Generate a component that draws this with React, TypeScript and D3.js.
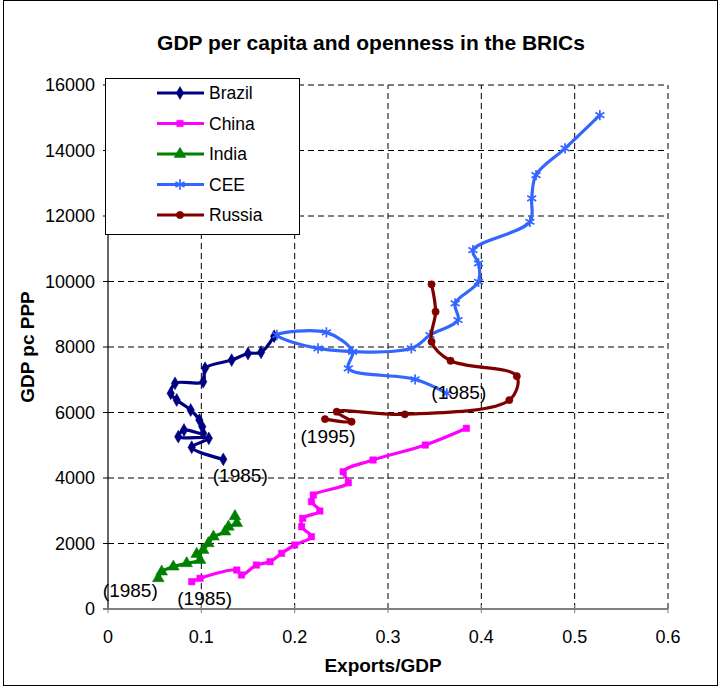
import React from "react";
import * as d3 from "d3";

const brazilX = [0.1235, 0.0897, 0.108, 0.0753, 0.0814, 0.102, 0.101, 0.0979, 0.0886, 0.0736, 0.0672, 0.0718, 0.102, 0.104, 0.1325, 0.15, 0.164, 0.178];
const brazilY = [4570, 4937, 5211, 5262, 5465, 5364, 5566, 5770, 6075, 6381, 6585, 6890, 6940, 7350, 7600, 7800, 7840, 8330];

const chinaX = [0.0897, 0.0986, 0.138, 0.143, 0.159, 0.1736, 0.186, 0.2, 0.218, 0.2075, 0.2086, 0.227, 0.218, 0.22, 0.2575, 0.252, 0.284, 0.34, 0.384];
const chinaY = [834, 937, 1190, 1038, 1343, 1444, 1700, 1954, 2207, 2512, 2769, 2992, 3276, 3480, 3856, 4192, 4549, 5007, 5517];

const indiaX = [0.0539, 0.0575, 0.07, 0.0843, 0.0986, 0.095, 0.102, 0.1075, 0.113, 0.1254, 0.129, 0.138, 0.136];
const indiaY = [937, 1139, 1291, 1395, 1496, 1679, 1801, 2006, 2207, 2360, 2512, 2620, 2830];

const ceeX = [0.363, 0.329, 0.2575, 0.262, 0.234, 0.181, 0.225, 0.325, 0.345, 0.375, 0.372, 0.397, 0.397, 0.391, 0.452, 0.454, 0.4586, 0.4897, 0.527];
const ceeY = [6585, 7013, 7348, 7850, 8447, 8365, 7959, 7959, 8365, 8823, 9333, 9993, 10554, 10960, 11824, 12538, 13250, 14065, 15082];

const russiaX = [0.2325, 0.261, 0.245, 0.318, 0.43, 0.438, 0.367, 0.3467, 0.351, 0.3467];
const russiaY = [5800, 5718, 6024, 5944, 6380, 7110, 7580, 8160, 9077, 9913];

const xTicks = [0, 0.1, 0.2, 0.3, 0.4, 0.5, 0.6];
const yTicks = [0, 2000, 4000, 6000, 8000, 10000, 12000, 14000, 16000];

const seriesNames = ["Brazil", "China", "India", "CEE", "Russia"];
const startLabels = ["(1985)", "(1985)", "(1985)", "(1985)", "(1995)"];

const FONT = "'Liberation Sans', Arial, Helvetica, sans-serif";

export default function App() {
  const W = 722;
  const H = 688;
  const x = d3.scaleLinear().domain([0, 0.6]).range([108, 668]);
  const y = d3.scaleLinear().domain([0, 16000]).range([609, 85]);

  const series = [
    { name: seriesNames[0], xs: brazilX, ys: brazilY, color: "#000080", sym: d3.symbolDiamond, size: 48, stroke: false },
    { name: seriesNames[1], xs: chinaX, ys: chinaY, color: "#FF00FF", sym: d3.symbolSquare, size: 42, stroke: false },
    { name: seriesNames[2], xs: indiaX, ys: indiaY, color: "#008000", sym: d3.symbolTriangle, size: 60, stroke: false },
    { name: seriesNames[3], xs: ceeX, ys: ceeY, color: "#3366FF", sym: d3.symbolAsterisk, size: 75, stroke: true },
    { name: seriesNames[4], xs: russiaX, ys: russiaY, color: "#800000", sym: d3.symbolCircle, size: 42, stroke: false },
  ];

  const line = d3
    .line<[number, number]>()
    .x((d) => x(d[0]))
    .y((d) => y(d[1]))
    .curve(d3.curveCatmullRom.alpha(0.5));

  const annos = [
    { s: 0, dx: 17, dy: 23 },
    { s: 1, dx: 13, dy: 23 },
    { s: 2, dx: -28, dy: 19 },
    { s: 3, dx: 12, dy: 6 },
    { s: 4, dx: 3, dy: 24 },
  ];

  const marker = (s: any, cx: number, cy: number, key: any) => {
    const p = d3.symbol(s.sym, s.size)() as string;
    return (
      <path
        key={key}
        d={p}
        transform={`translate(${cx},${cy})`}
        fill={s.stroke ? "none" : s.color}
        stroke={s.color}
        strokeWidth={s.stroke ? 1.7 : 0.5}
      />
    );
  };

  return (
    <svg width={W} height={H} style={{ display: "block", position: "absolute", left: 0, top: 0 }} fontFamily={FONT}>
      <rect x={0} y={0} width={W} height={H} fill="#ffffff" />
      <rect x={3.5} y={0.5} width={714} height={685} fill="none" stroke="#000" strokeWidth={1} />

      <text x={371} y={50} textAnchor="middle" fontSize={21} fontWeight="bold">
        GDP per capita and openness in the BRICs
      </text>

      {yTicks.filter((t) => t > 0).map((t) => (
        <line key={"gy" + t} x1={x(0)} x2={x(0.6)} y1={y(t)} y2={y(t)} stroke="#000" strokeWidth={1} strokeDasharray="6,4" />
      ))}
      {xTicks.filter((t) => t > 0).map((t) => (
        <line key={"gx" + t} x1={x(t)} x2={x(t)} y1={y(0)} y2={y(16000)} stroke="#000" strokeWidth={1} strokeDasharray="6,4" />
      ))}

      <line x1={x(0)} x2={x(0)} y1={y(0)} y2={y(16000)} stroke="#000" strokeWidth={1.2} />
      {yTicks.map((t) => (
        <g key={"yt" + t}>
          <line x1={x(0) - 5} x2={x(0)} y1={y(t)} y2={y(t)} stroke="#000" strokeWidth={1} />
          <text x={x(0) - 13} y={y(t)} dy="0.35em" textAnchor="end" fontSize={18}>
            {String(t)}
          </text>
        </g>
      ))}

      <line x1={x(0)} x2={x(0.6)} y1={y(0)} y2={y(0)} stroke="#808080" strokeWidth={2} />
      {xTicks.map((t) => (
        <g key={"xt" + t}>
          <line x1={x(t)} x2={x(t)} y1={y(0) - 4} y2={y(0) + 4} stroke="#808080" strokeWidth={1} />
          <text x={x(t)} y={643} textAnchor="middle" fontSize={18}>
            {String(t)}
          </text>
        </g>
      ))}

      <text x={383} y={672} textAnchor="middle" fontSize={19} fontWeight="bold">
        Exports/GDP
      </text>
      <text transform={`translate(34,347) rotate(-90)`} textAnchor="middle" fontSize={19} fontWeight="bold">
        GDP pc PPP
      </text>

      {series.map((s, i) => {
        const pts: [number, number][] = s.xs.map((v, j) => [v, s.ys[j]]);
        return (
          <g key={"s" + i}>
            <path d={line(pts) as string} fill="none" stroke={s.color} strokeWidth={3.2} strokeLinejoin="round" />
            {pts.map((p, j) => marker(s, x(p[0]), y(p[1]), j))}
          </g>
        );
      })}

      {annos.map((a, i) => {
        const s = series[a.s];
        return (
          <text key={"an" + i} x={x(s.xs[0]) + a.dx} y={y(s.ys[0]) + a.dy} textAnchor="middle" fontSize={19}>
            {startLabels[a.s]}
          </text>
        );
      })}

      <rect x={105.5} y={78.5} width={194} height={156} fill="#fff" stroke="#000" strokeWidth={1} />
      {series.map((s, i) => {
        const ly = 93 + i * 30.5;
        return (
          <g key={"lg" + i}>
            <line x1={157} x2={204} y1={ly} y2={ly} stroke={s.color} strokeWidth={3.2} />
            {marker(s, 180, ly, "m")}
            <text x={209} y={ly} dy="0.35em" fontSize={17.5}>
              {s.name}
            </text>
          </g>
        );
      })}
    </svg>
  );
}
